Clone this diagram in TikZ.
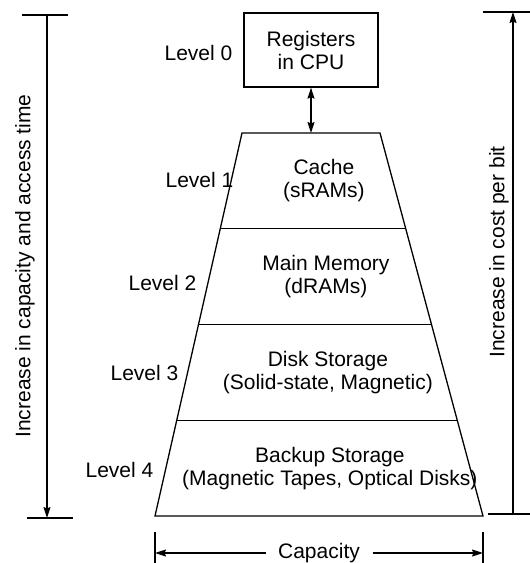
\documentclass[tikz,border=0pt]{standalone}
\usepackage{fontspec}
\setmainfont{Liberation Sans}
\usetikzlibrary{arrows.meta,calc}

\tikzset{
  every picture/.style={line width=1.3pt},
  lbl/.style={font=\fontsize{21}{23}\selectfont, inner sep=0pt, align=center},
  lvl/.style={lbl, anchor=base east},
  tip/.style={-{Stealth[length=11pt,width=7pt,inset=1.5pt]}},
  tiptwo/.style={{Stealth[length=11pt,width=7pt,inset=1.5pt]}-{Stealth[length=11pt,width=7pt,inset=1.5pt]}},
  regbox/.style={draw, lbl, minimum width=134pt, minimum height=74pt},
}

\begin{document}
\begin{tikzpicture}[x=1pt,y=-1pt]
  \useasboundingbox (0,0) rectangle (530,563);

  % trapezoid outline of the storage levels
  \coordinate (t1) at (242,133);
  \coordinate (t2) at (380,133);
  \coordinate (b2) at (483,516);
  \coordinate (b1) at (155,516);
  \draw (t1) -- (t2) -- (b2) -- (b1) -- cycle;

  % dividing lines between the levels
  \foreach \f/\n in {0.25/1,0.5/2,0.75/3} {
    \coordinate (sl\n) at ($(t1)!\f!(b1)$);
    \coordinate (sr\n) at ($(t2)!\f!(b2)$);
    \draw (sl\n) -- (sr\n);
  }

  % level 0 box and link to the cache
  \node[regbox] (reg) at (311,50) {Registers\\in CPU};
  \coordinate (ctop) at ($(t1)!0.5!(t2)$);
  \draw[tiptwo] (reg.south) -- (ctop);

  % texts inside the trapezoid
  \node[lbl] (cache) at ($(t1)!0.5!(sr1)$) {Cache\\(sRAMs)};
  \node[lbl] (mainm) at ($(sl1)!0.5!(sr2)$) {Main Memory\\(dRAMs)};
  \node[lbl] (disk)  at ($(sl2)!0.5!(sr3)$) {Disk Storage\\(Solid-state, Magnetic)};
  \node[lbl] (backup) at ($(sl3)!0.5!(b2)$) {Backup Storage\\(Magnetic Tapes, Optical Disks)};

  % level labels
  \node[lvl] (l0) at (233,60)  {Level 0};
  \node[lvl] (l1) at (234,187) {Level 1};
  \node[lvl] (l2) at (197,290) {Level 2};
  \node[lvl] (l3) at (179,380) {Level 3};
  \node[lvl] (l4) at (154,477) {Level 4};

  % left scale: capacity and access time
  \coordinate (lt) at (47,15);
  \coordinate (lb) at (47,518);
  \coordinate (ltl) at (22,15);  \coordinate (ltr) at (68,15);
  \coordinate (lbl1) at (27,518); \coordinate (lbr) at (73,518);
  \draw (ltl) -- (ltr);
  \draw (lbl1) -- (lbr);
  \draw[tip] (lt) -- (lb);
  \node[lbl, rotate=90] (lefttext) at (25,266) {Increase in capacity and access time};

  % right scale: cost per bit
  \coordinate (rt) at (513,12);
  \coordinate (rb) at (513,514);
  \coordinate (rtl) at (483,12);  \coordinate (rtr) at (530,12);
  \coordinate (rbl) at (488,514); \coordinate (rbr) at (530,514);
  \draw (rtl) -- (rtr);
  \draw (rbl) -- (rbr);
  \draw[tip] (rb) -- (rt);
  \node[lbl, rotate=90] (righttext) at (499,252) {Increase in cost per bit};

  % capacity dimension below
  \coordinate (cl) at (155,553);
  \coordinate (cr) at (483,553);
  \coordinate (clt) at (155,532); \coordinate (clb) at (155,563);
  \coordinate (crt) at (483,532); \coordinate (crb) at (483,563);
  \draw (clt) -- (clb);
  \draw (crt) -- (crb);
  \node[lbl, inner xsep=12pt] (capacity) at ($(cl)!0.5!(cr)$) {Capacity};
  \draw[tip] (capacity.west) -- (cl);
  \draw[tip] (capacity.east) -- (cr);
\end{tikzpicture}
\end{document}
